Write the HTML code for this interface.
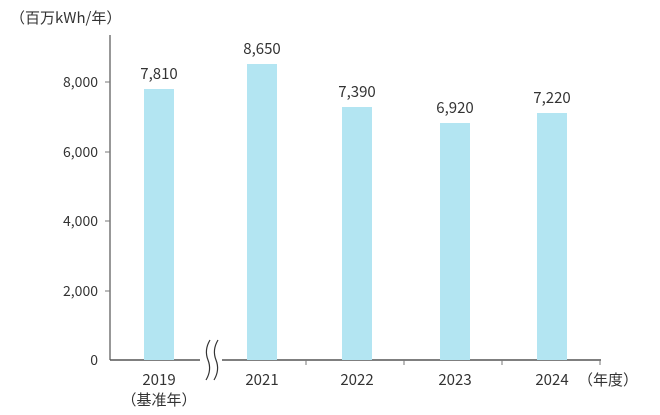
<!DOCTYPE html>
<html><head><meta charset="utf-8"><style>
body{margin:0;background:#fff}
svg text{font-family:"Noto Sans CJK JP","Liberation Sans",sans-serif;fill:#333}
</style></head><body>
<svg width="660" height="410" viewBox="0 0 660 410">
<text x="10" y="23" font-size="15">（百万kWh/年）</text>
<line x1="110" y1="35" x2="110" y2="360" stroke="#777" stroke-width="1.5"/>
<line x1="110" y1="360" x2="601" y2="360" stroke="#555" stroke-width="1.5"/>
<g stroke="#777" stroke-width="1">
<line x1="105" y1="82" x2="110" y2="82"/><line x1="105" y1="152" x2="110" y2="152"/>
<line x1="105" y1="221" x2="110" y2="221"/><line x1="105" y1="291" x2="110" y2="291"/>
<line x1="306" y1="360" x2="306" y2="365"/><line x1="404" y1="360" x2="404" y2="365"/>
<line x1="502" y1="360" x2="502" y2="365"/><line x1="600" y1="360" x2="600" y2="365"/>
</g>
<g font-size="14" text-anchor="end">
<text x="98" y="87">8,000</text><text x="98" y="157">6,000</text>
<text x="98" y="226">4,000</text><text x="98" y="296">2,000</text><text x="98" y="365">0</text>
</g>
<g fill="#b3e5f2">
<rect x="144" y="89" width="30" height="271"/>
<rect x="247" y="64" width="30" height="296"/>
<rect x="342" y="107" width="30" height="253"/>
<rect x="440" y="123" width="30" height="237"/>
<rect x="537" y="113" width="30" height="247"/>
</g>
<rect x="200" y="340" width="22" height="40" fill="#fff"/>
<path d="M210 340 Q204 350 208 360 Q212 370 206 380 M218 340 Q212 350 216 360 Q220 370 214 380" stroke="#333" fill="none" stroke-width="1.2"/>
<g font-size="15" text-anchor="middle">
<text x="159" y="79">7,810</text><text x="262" y="54">8,650</text>
<text x="357" y="97">7,390</text><text x="455" y="113">6,920</text><text x="552" y="103">7,220</text>
<text x="159" y="385">2019</text><text x="159" y="405">（基准年）</text>
<text x="262" y="385">2021</text><text x="357" y="385">2022</text>
<text x="455" y="385">2023</text><text x="552" y="385">2024</text>
<text x="608" y="385">（年度）</text>
</g>
</svg>
</body></html>
